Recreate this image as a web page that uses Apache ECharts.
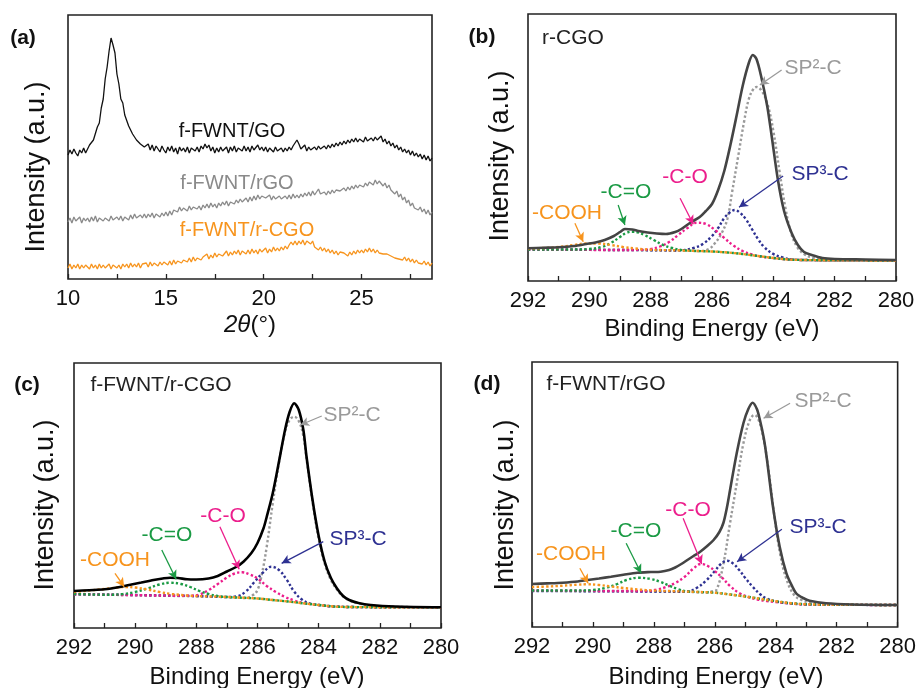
<!DOCTYPE html>
<html>
<head>
<meta charset="utf-8">
<script src="https://cdn.jsdelivr.net/npm/echarts@6/dist/echarts.min.js"></script>
<style>html,body{margin:0;padding:0;background:#fff}#c{width:919px;height:688px}</style>
</head>
<body>
<div id="c"></div>
<script>
// ---------- DATA ----------
// (a) XRD, sampled every 0.1 deg from 10.0 to 28.6 (intensity in arbitrary units)
const xrdThetaStart = 10.0;
const xrdThetaStep = 0.1;
const xrdGO = [
 124,129,125,130,126,123,129,126,131,126,
 128,134,132,139,140,152,156,171,180,200,
 212,228,241,234,226,205,195,180,176,164,
 162,153,153,145,146,139,141,135,137,132,
 133,135,129,134,128,133,130,127,133,129,
 126,132,128,133,127,131,125,132,128,131,
 127,132,126,131,133,128,132,127,133,130,
 135,131,134,128,132,126,131,127,132,128,
 127,132,126,132,128,133,127,131,132,128,
 133,128,132,127,133,129,128,134,129,132,
 128,132,127,131,133,127,132,128,126,131,
 127,131,128,132,129,133,134,139,135,130,
 129,134,128,132,129,127,132,129,133,130,
 129,133,130,134,131,135,132,136,133,137,
 134,138,135,139,136,140,137,141,137,140,
 141,137,142,138,137,141,138,142,139,140,
 143,137,140,135,138,133,136,131,134,129,
 132,127,130,126,129,124,128,123,126,122,
 125,120,124,119,123,118,121
];
const xrdRGO = [
 57,61,56,62,58,57,62,56,61,58,
 61,57,62,58,63,57,61,62,58,61,
 62,58,63,59,57,62,59,63,58,62,
 63,59,64,60,65,61,60,64,61,65,
 61,65,62,66,61,65,67,62,66,63,
 67,63,68,64,69,71,67,72,68,71,
 72,68,73,69,72,74,70,73,69,74,
 71,75,71,76,72,75,71,76,73,77,
 74,78,73,77,79,75,79,76,80,77,
 77,81,77,82,78,83,79,84,80,83,
 85,81,82,84,79,83,80,81,83,80,
 79,83,80,84,80,85,81,84,81,85,
 82,86,83,87,83,88,84,87,90,85,
 83,87,84,88,85,89,86,89,91,88,
 88,91,88,92,89,93,90,94,91,94,
 95,92,96,93,97,98,94,99,95,98,
 98,93,96,91,94,89,91,85,88,82,
 85,79,82,76,79,73,76,71,73,69,
 72,67,70,65,69,64,67
];
const xrdRCGO = [
 11,15,10,14,11,15,10,14,11,14,
 14,10,15,11,14,10,15,11,14,11,
 11,15,10,14,15,11,14,10,15,12,
 15,11,16,12,15,12,16,11,15,16,
 16,12,17,13,16,18,13,17,14,17,
 17,14,18,14,19,15,18,20,16,19,
 20,17,21,17,22,18,21,23,19,22,
 23,25,20,24,21,26,22,25,27,23,
 24,28,23,27,24,28,25,29,24,28,
 28,25,29,25,30,26,29,25,30,27,
 27,31,26,30,27,32,28,31,28,32,
 29,33,30,34,37,34,38,34,38,35,
 39,34,38,40,35,38,32,33,29,32,
 28,31,27,30,26,29,25,28,24,27,
 25,26,28,23,27,24,28,25,29,26,
 29,26,30,27,31,27,30,26,29,26,
 28,25,26,25,25,23,24,21,23,20,
 22,19,22,18,21,17,20,16,19,16,
 18,15,18,14,17,13,16
];

// (b) r-CGO  C1s  [binding energy, intensity]
const bSolid = [[292,32.7],[291.5,33.2],[291,33.7],[290.5,35],[290.1,37],[289.8,38.5],[289.5,41],[289.2,45],[289.0,49],[288.84,52],[288.6,51.5],[288.4,50],[288.1,48.5],[287.8,47.5],[287.5,47],[287.2,49],[287.0,52],[286.7,58.5],[286.4,64],[286.2,70],[286.0,77],[285.8,91],[285.6,110],[285.4,136],[285.2,165],[285.0,195],[284.8,218],[284.67,226],[284.55,222],[284.4,205],[284.2,175],[284.05,144],[283.85,101],[283.65,70],[283.4,47.7],[283.2,36],[283.0,29],[282.75,26],[282.4,23],[282,22],[281,21.5],[280,21]];
const bSP2 = [[292,31.5],[287,30.5],[286.4,30],[286.1,32],[285.9,38],[285.7,47],[285.5,62],[285.35,88],[285.15,124],[284.95,160],[284.8,182],[284.65,192],[284.55,194],[284.4,191],[284.2,178],[284.0,150],[283.8,110],[283.6,72],[283.4,46],[283.2,33],[283.0,27],[282.7,23],[282.3,21],[281,20.6],[280,20.5]];
const bSP3 = [[292,31.5],[288,30.8],[287.2,30.5],[286.9,31],[286.6,33],[286.3,37],[286.0,45],[285.8,53],[285.6,63],[285.4,69],[285.25,71],[285.1,68.5],[284.9,62],[284.7,52],[284.5,42],[284.3,34],[284.0,27],[283.7,23.5],[283.4,21.5],[283,21],[282,20.7],[280,20.5]];
const bCO = [[292,31.5],[289,31],[288.3,31.2],[288,32],[287.7,34.5],[287.4,39],[287.1,46],[286.8,53],[286.5,58.3],[286.2,57],[285.9,51],[285.6,43],[285.3,35.5],[285.0,30],[284.7,26.5],[284.4,24.5],[284,23],[283.5,21.5],[283,21],[282,20.7],[280,20.5]];
const bCdO = [[292,31.5],[290.5,31.5],[290,32],[289.6,34],[289.3,38],[289.0,44],[288.8,48],[288.6,49.3],[288.4,48.5],[288.2,46],[287.9,41],[287.6,36],[287.3,33],[287,31],[286.5,30],[286,29.5],[285.5,28.5],[285,27],[284.5,25],[284,23],[283.5,21.5],[283,21],[282,20.7],[280,20.5]];
const bCOOH = [[292,32.5],[291.5,33],[291,34],[290.5,36],[290.1,37.5],[289.7,37.5],[289.3,36],[288.9,34],[288.5,32.5],[288,31.3],[287,30.5],[286,29.5],[285.5,28.5],[285,27],[284.5,25],[284,23],[283.5,21.5],[283,21],[282,20.7],[280,20.5]];

// (c) f-FWNT/r-CGO
const cSolid = [[292,37],[291.5,37.8],[291,38.7],[290.5,41],[290.2,43],[289.8,45.5],[289.4,48],[289.1,49.5],[288.86,50.3],[288.6,50],[288.3,48.7],[288,48.5],[287.6,49.5],[287.3,52],[287,56.5],[286.7,61],[286.46,66.3],[286.2,75],[286.0,85],[285.8,100],[285.7,111],[285.5,135],[285.3,166],[285.1,198],[284.95,216],[284.8,224.7],[284.65,218],[284.5,198],[284.4,172],[284.2,128],[284.0,92],[283.8,66],[283.6,50],[283.4,39.5],[283.2,32],[283.0,28],[282.7,25],[282.3,23],[281.5,21.5],[280,20.7]];
const cSP2 = [[292,33.8],[287,31],[286.4,30],[286.15,33],[286.0,38],[285.85,55],[285.7,81],[285.5,125],[285.3,165],[285.1,196],[284.95,208],[284.8,211.3],[284.65,207],[284.5,192],[284.4,170],[284.2,126],[284.0,89],[283.8,64],[283.6,48],[283.4,38.5],[283.2,31.5],[283.0,27.5],[282.7,24.5],[282.3,22.5],[281.5,21.2],[280,20.7]];
const cSP3 = [[292,33.8],[288,32],[287,31],[286.7,31.5],[286.4,36],[286.1,46],[285.8,56],[285.55,61.3],[285.3,58],[285.05,48.5],[284.8,36.3],[284.55,28.5],[284.3,24.5],[284,23],[283.5,21.5],[283,21],[282,20.8],[280,20.7]];
const cCO = [[292,33.8],[289,32.4],[288.2,32.2],[287.9,33.5],[287.6,38],[287.3,44],[287,50.5],[286.75,54.5],[286.5,55.7],[286.25,53.5],[286,49.5],[285.7,42],[285.4,36],[285.1,31],[284.8,27.5],[284.5,25],[284,23],[283.5,21.5],[283,21],[282,20.8],[280,20.7]];
const cCdO = [[292,34],[290.8,33.2],[290.4,34],[290,36],[289.6,39.5],[289.2,43.5],[288.86,45.3],[288.5,44],[288.2,41],[287.9,37],[287.6,34],[287.3,32],[287,31],[286,29.5],[285.5,28],[285,26.5],[284.5,24.7],[284,23],[283.5,21.5],[283,21],[282,20.8],[280,20.7]];
const cCOOH = [[292,36],[291.5,37.5],[291,39],[290.6,40.5],[290.3,41],[290,40.5],[289.6,38.5],[289.2,36],[288.8,34],[288.3,32.5],[287.8,31.8],[287,31],[286,29.5],[285.5,28],[285,26.5],[284.5,24.7],[284,23],[283.5,21.5],[283,21],[282,20.8],[280,20.7]];

// (d) f-FWNT/rGO
const dSolid = [[292,43],[291.5,43.6],[291,44.3],[290.5,45.5],[290.17,47],[289.8,48.5],[289.41,50.3],[289,52.3],[288.54,54.3],[288.1,55],[287.78,55.3],[287.5,57],[287.3,59.5],[287.1,63],[286.9,67],[286.7,71],[286.48,75.3],[286.25,81],[286.04,87],[285.85,95],[285.72,104],[285.6,120],[285.5,137],[285.28,174],[285.06,204],[284.9,218],[284.76,224.3],[284.62,218],[284.52,207],[284.4,190],[284.3,170],[284.09,120],[283.87,80],[283.65,53.7],[283.45,40],[283.33,33.7],[283.1,29],[282.89,26.3],[282.35,23.7],[281.5,22.5],[280,22]];
const dSP2 = [[292,36.2],[287,35.3],[286.3,34.5],[286.1,35.5],[285.95,37],[285.72,63],[285.5,104],[285.28,144],[285.06,184],[284.85,207],[284.7,212],[284.55,206],[284.4,188],[284.25,160],[284.05,112],[283.85,72],[283.65,48],[283.4,32],[283.15,27],[282.9,24.5],[282.5,23],[281.5,22.3],[280,22]];
const dSP3 = [[292,36],[288,35.5],[287.2,35.3],[286.9,35.5],[286.6,39],[286.3,46],[286.0,56],[285.8,63],[285.6,66.3],[285.4,63.5],[285.2,57],[285.0,49],[284.75,40],[284.5,32.5],[284.3,28.5],[284,25.5],[283.5,23.5],[283,22.5],[282,22.2],[280,22]];
const dCO = [[292,36.5],[289,36],[288.2,36],[287.9,37.5],[287.6,40],[287.3,44],[287,50],[286.7,58.5],[286.45,63],[286.2,60.5],[286.0,56],[285.75,49],[285.5,41],[285.2,34],[284.9,30],[284.6,27.5],[284.3,26],[284,25],[283.5,23.5],[283,22.5],[282,22.2],[280,22]];
const dCdO = [[292,36.5],[290.5,36.5],[290,37],[289.6,39],[289.2,43],[288.9,47],[288.5,49.3],[288.1,48],[287.8,45.3],[287.5,41.5],[287.2,37.8],[286.9,35.5],[286.5,35],[286,34.3],[285.5,32.5],[285,30.5],[284.5,28.2],[284,25.8],[283.5,23.8],[283,22.8],[282,22.3],[280,22]];
const dCOOH = [[292,40],[291.5,40.5],[291,41.3],[290.5,42.3],[290.2,42.7],[289.8,42],[289.4,40.5],[289,39],[288.5,37.5],[288,36.5],[287,35.5],[286,34.3],[285.5,32.5],[285,30.5],[284.5,28.2],[284,25.8],[283.5,23.8],[283,22.8],[282,22.3],[280,22]];

// arrows for annotations: [from, to] in data coordinates
const bArrows = {sp2:[[283.73,211],[284.44,196]], sp3:[[283.68,105],[285.12,73.7]], co:[[287.04,82.7],[286.61,56.7]], cdo:[[289.06,76],[288.84,56]], cooh:[[290.47,57.7],[290.2,39.3]]};
const cArrows = {sp2:[[283.9,212],[284.6,203]], sp3:[[283.85,86.3],[285.21,64.7]], co:[[287.23,101.3],[286.6,58.7]], cdo:[[289.13,78],[288.66,48.7]], cooh:[[290.66,54.7],[290.36,41.3]]};
const dArrows = {sp2:[[283.53,223.7],[284.4,208.7]], sp3:[[283.8,97.7],[285.27,65.3]], co:[[287.04,108.7],[286.43,63]], cdo:[[288.91,83.7],[288.42,53.7]], cooh:[[290.43,58.7],[290.16,43.7]]};

// ---------- STYLE ----------
const C = {sp2:'#9a9a9a', sp3:'#2e3192', co:'#ec1e8c', cdo:'#1a9a44', cooh:'#f7941d'};
const FONT = '"Liberation Sans", Arial, sans-serif';

const chart = echarts.init(document.getElementById('c'), null, {renderer:'canvas'});

const grids = [
  {left:68, top:15, width:364, height:264},
  {left:528, top:14, width:368, height:267},
  {left:74, top:363, width:367, height:265},
  {left:532, top:362, width:368, height:265}
];

function xrdPairs(arr){ return arr.map((v,i)=>[+(xrdThetaStart + i*xrdThetaStep).toFixed(2), v]); }

const tickStyle = {show:true, inside:true, length:5, lineStyle:{color:'#222', width:1.3}};
const xAxes = [
  {gridIndex:0, type:'value', min:10, max:28.6, interval:2.5, axisLine:{show:false}, splitLine:{show:false},
   axisTick:tickStyle, axisLabel:{margin:9, fontSize:22, fontFamily:FONT, color:'#111', formatter:v=> (Math.abs(v%5)<1e-6 ? String(v) : ''), showMaxLabel:false}},
];
for (let g=1; g<4; g++) {
  xAxes.push({gridIndex:g, type:'value', min:280, max:292, interval:1, inverse:true, axisLine:{show:false}, splitLine:{show:false},
   axisTick:tickStyle, axisLabel:{margin:9, fontSize:22, fontFamily:FONT, color:'#111', formatter:v=> (v%2===0 ? String(v) : '')}});
}
const yAxes = grids.map((gr,g)=>({gridIndex:g, type:'value', min:0, max:gr.height, show:false}));

const series = [];
series.push({type:'line', xAxisIndex:0, yAxisIndex:0, data:xrdPairs(xrdRCGO), symbol:'none', lineStyle:{color:'#f7941d', width:1.3}});
series.push({type:'line', xAxisIndex:0, yAxisIndex:0, data:xrdPairs(xrdRGO), symbol:'none', lineStyle:{color:'#8a8a8a', width:1.3}});
series.push({type:'line', xAxisIndex:0, yAxisIndex:0, data:xrdPairs(xrdGO), symbol:'none', lineStyle:{color:'#111', width:1.3}});

function dotted(idx, data, color){
  return {type:'line', xAxisIndex:idx, yAxisIndex:idx, data, symbol:'none', smooth:0.4,
    lineStyle:{color, width:2.4, type:[2.4,2.3]}};
}
function arrows(a){
  const out = [];
  for (const k of ['sp2','sp3','co','cdo','cooh']) {
    out.push([{coord:a[k][0], lineStyle:{color:C[k], width:1.3, type:'solid'}}, {coord:a[k][1]}]);
  }
  return out;
}
const panels = [
  [1, bSolid, bSP2, bSP3, bCO, bCdO, bCOOH, bArrows, '#444'],
  [2, cSolid, cSP2, cSP3, cCO, cCdO, cCOOH, cArrows, '#000'],
  [3, dSolid, dSP2, dSP3, dCO, dCdO, dCOOH, dArrows, '#444']
];
for (const p of panels) {
  const [i, solid, sp2, sp3, co, cdo, cooh, arr, sc] = p;
  series.push(dotted(i, sp2, C.sp2));
  series.push(dotted(i, sp3, C.sp3));
  series.push(dotted(i, co, C.co));
  series.push(dotted(i, cdo, C.cdo));
  series.push(dotted(i, cooh, C.cooh));
  series.push({type:'line', xAxisIndex:i, yAxisIndex:i, data:solid, symbol:'none', smooth:0.3,
    lineStyle:{color:sc, width:2.6}, z:3,
    markLine:{silent:true, symbol:['none','arrow'], symbolSize:[7,9], label:{show:false}, animation:false,
      data:arrows(arr)}});
}

function txt(x, y, text, opts){
  opts = opts || {};
  const size = opts.size || 21;
  const st = {text, fill: opts.color || '#111', fontSize:size, fontFamily:FONT, fontWeight: opts.bold ? 'bold':'normal',
    align:'center', verticalAlign:'middle', textAlign:'center', textVerticalAlign:'middle'};
  if (opts.rich) st.rich = opts.rich;
  return {type:'text', x, y, rotation: opts.rot || 0, z:10, style:st, silent:true};
}
const itRich = {i:{fontStyle:'italic', fontSize:24, fontFamily:FONT, fill:'#111'}, n:{fontSize:24, fontFamily:FONT, fill:'#111'}};
const graphics = [
  // (a)
  txt(23, 38, '(a)', {bold:true, size:21}),
  txt(232, 131, 'f-FWNT/GO', {size:20, color:'#111'}),
  txt(237, 183, 'f-FWNT/rGO', {size:20, color:'#8a8a8a'}),
  txt(247, 230, 'f-FWNT/r-CGO', {size:20, color:'#f7941d'}),
  txt(37, 167, 'Intensity (a.u.)', {size:27, rot:Math.PI/2}),
  txt(250, 325, '{i|2θ}{n|(°)}', {size:24, rich:itRich}),
  // (b)
  txt(482, 37, '(b)', {bold:true, size:21}),
  txt(573, 38, 'r-CGO', {size:21, color:'#222'}),
  txt(501, 156, 'Intensity (a.u.)', {size:27, rot:Math.PI/2}),
  txt(712, 329, 'Binding Energy (eV)', {size:24}),
  txt(813, 68, 'SP²-C', {color:C.sp2}),
  txt(820, 174, 'SP³-C', {color:C.sp3}),
  txt(685, 177, '-C-O', {color:C.co}),
  txt(626, 192, '-C=O', {color:C.cdo}),
  txt(567, 213, '-COOH', {color:C.cooh}),
  // (c)
  txt(27, 385, '(c)', {bold:true, size:21}),
  txt(161, 385, 'f-FWNT/r-CGO', {size:21, color:'#222'}),
  txt(46, 505, 'Intensity (a.u.)', {size:27, rot:Math.PI/2}),
  txt(257, 677, 'Binding Energy (eV)', {size:24}),
  txt(352, 415, 'SP²-C', {color:C.sp2}),
  txt(358, 539, 'SP³-C', {color:C.sp3}),
  txt(223, 516, '-C-O', {color:C.co}),
  txt(167, 535, '-C=O', {color:C.cdo}),
  txt(115, 560, '-COOH', {color:C.cooh}),
  // (d)
  txt(487, 384, '(d)', {bold:true, size:21}),
  txt(606, 384, 'f-FWNT/rGO', {size:21, color:'#222'}),
  txt(506, 505, 'Intensity (a.u.)', {size:27, rot:Math.PI/2}),
  txt(716, 677, 'Binding Energy (eV)', {size:24}),
  txt(823, 401, 'SP²-C', {color:C.sp2}),
  txt(818, 527, 'SP³-C', {color:C.sp3}),
  txt(688, 510, '-C-O', {color:C.co}),
  txt(636, 531, '-C=O', {color:C.cdo}),
  txt(571, 554, '-COOH', {color:C.cooh})
];

chart.setOption({
  animation:false,
  backgroundColor:'#fff',
  grid: grids.map(g=>Object.assign({show:true, borderColor:'#222', borderWidth:1.6, backgroundColor:'transparent'}, g)),
  xAxis:xAxes,
  yAxis:yAxes,
  series,
  graphic:graphics
});
</script>
</body>
</html>
